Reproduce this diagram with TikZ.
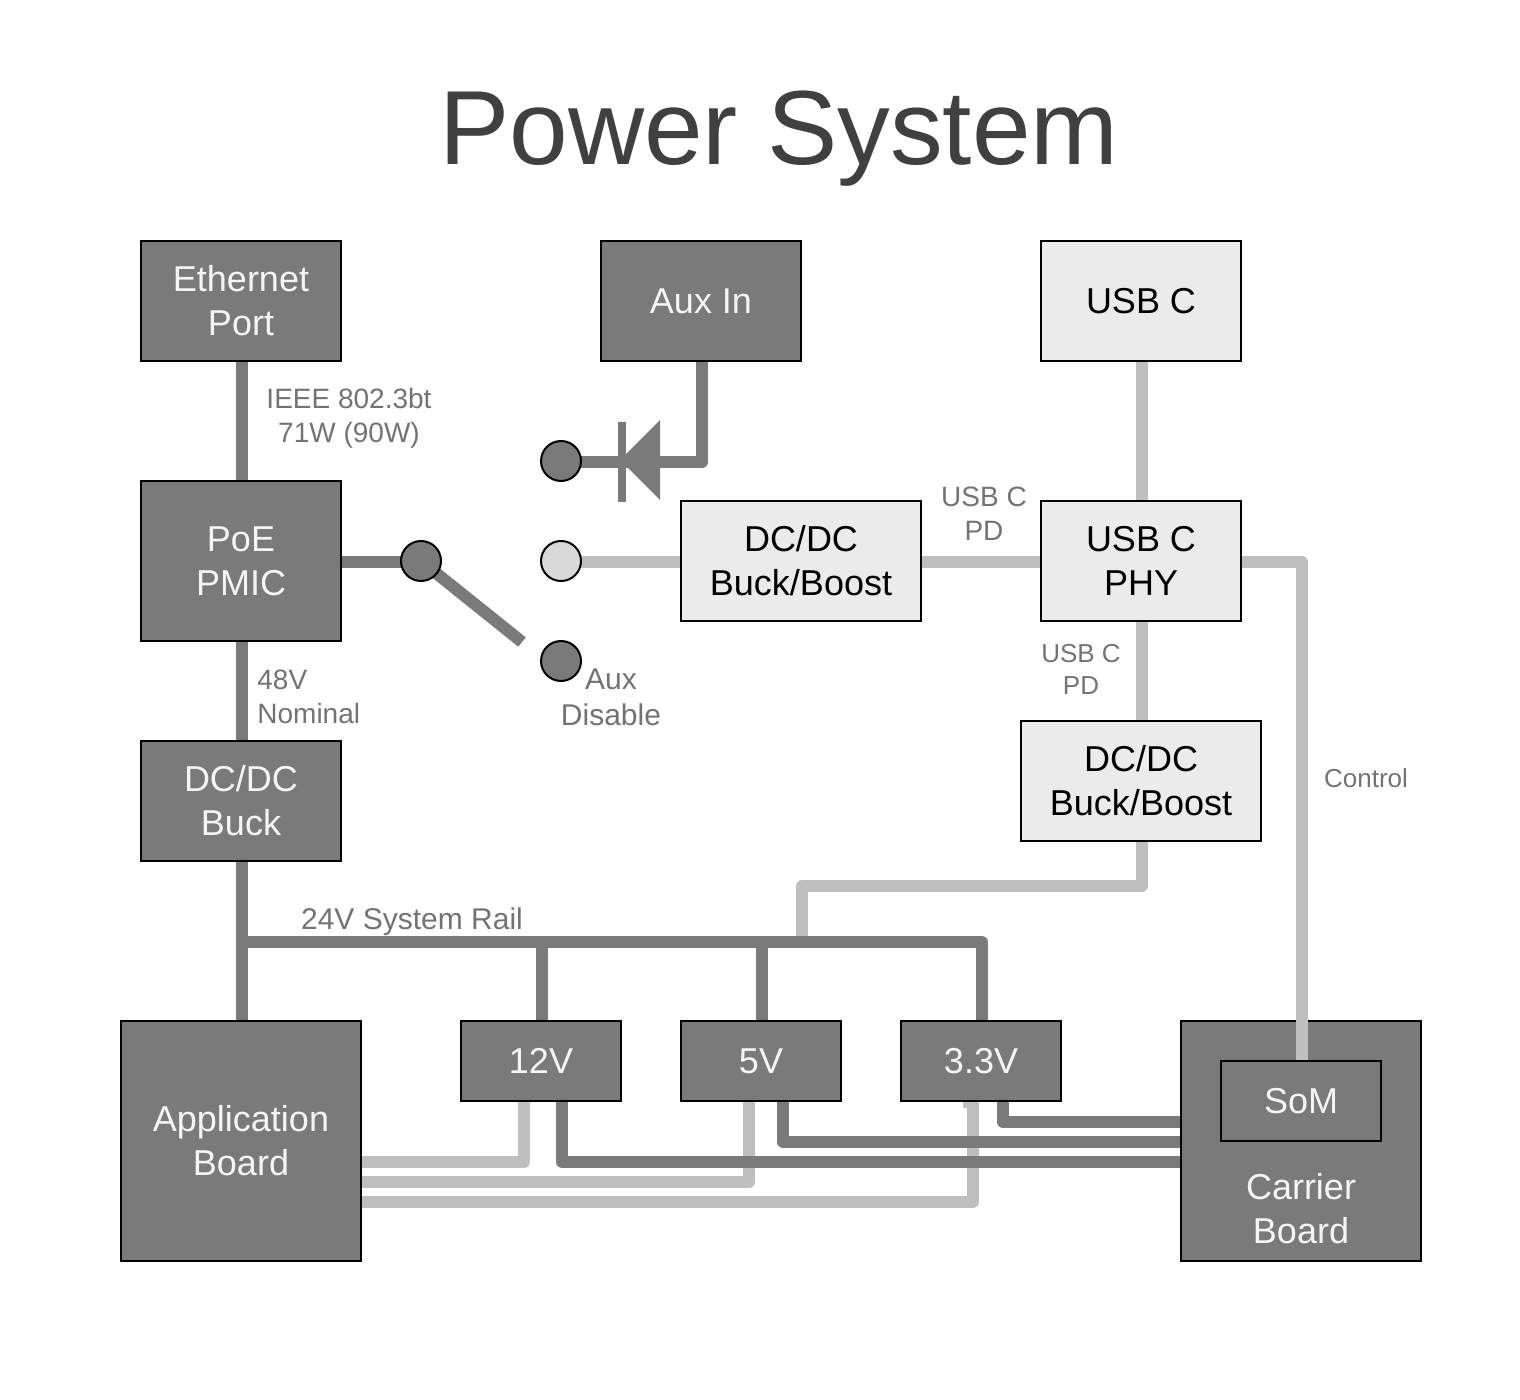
\documentclass[tikz,border=0pt]{standalone}
\usepackage{fontspec}
\setmainfont{Liberation Sans}
\usetikzlibrary{backgrounds}

\definecolor{darkgrey}{HTML}{7A7A7A}
\definecolor{palegrey}{HTML}{BFBFBF}
\definecolor{boxgrey}{HTML}{EBEBEB}
\definecolor{taggrey}{HTML}{737373}

\tikzset{
  box/.style={draw=black, line width=1pt, inner sep=0pt, outer sep=0pt, align=center,
    font=\fontsize{18}{22}\selectfont},
  darkbox/.style={box, fill=darkgrey, text=white!96!black},
  lightbox/.style={box, fill=boxgrey, text=black},
  contact/.style={circle, draw=black, line width=1pt, inner sep=0pt, outer sep=0pt,
    minimum size=20pt},
  darkwire/.style={draw=darkgrey, line width=6pt, line join=round},
  lightwire/.style={draw=palegrey, line width=6pt, line join=round},
  tag/.style={text=taggrey, align=center, inner sep=0pt, font=\fontsize{14}{17}\selectfont},
  smalltag/.style={tag, font=\fontsize{13}{16}\selectfont},
}

\begin{document}
\begin{tikzpicture}[x=0.5pt, y=-0.5pt]
  \useasboundingbox (0,0) rectangle (1520,1400);

  \node[text=black!75, inner sep=0pt, anchor=base, font=\fontsize{52.7}{60}\selectfont] (title) at (779,165) {Power System};

  % top row
  \node[darkbox, minimum width=100pt, minimum height=60pt] (eth) at (241,301) {Ethernet\\Port};
  \node[darkbox, minimum width=100pt, minimum height=60pt] (aux) at (701,301) {Aux In};
  \node[lightbox, minimum width=100pt, minimum height=60pt] (usbc) at (1141,301) {USB C};

  % middle
  \node[darkbox, minimum width=100pt, minimum height=80pt] (pmic) at (241,561) {PoE\\PMIC};
  \node[lightbox, minimum width=120pt, minimum height=60pt] (bb1) at (801,561) {DC/DC\\Buck/Boost};
  \node[lightbox, minimum width=100pt, minimum height=60pt] (phy) at (1141,561) {USB C\\PHY};
  \node[lightbox, minimum width=120pt, minimum height=60pt] (bb2) at (1141,781) {DC/DC\\Buck/Boost};
  \node[darkbox, minimum width=100pt, minimum height=60pt] (buck) at (241,801) {DC/DC\\Buck};

  % switch
  \node[contact, fill=darkgrey] (pole) at (421,561) {};
  \node[contact, fill=darkgrey] (c1) at (561,461) {};
  \node[contact, fill=black!15] (c2) at (561,561) {};
  \node[contact, fill=darkgrey] (c3) at (561,661) {};
  \coordinate (armend) at (522,642);

  % bottom row
  \node[darkbox, minimum width=120pt, minimum height=120pt] (app) at (241,1141) {Application\\Board};
  \node[darkbox, minimum width=80pt, minimum height=40pt] (v12) at (541,1061) {12V};
  \node[darkbox, minimum width=80pt, minimum height=40pt] (v5) at (761,1061) {5V};
  \node[darkbox, minimum width=80pt, minimum height=40pt] (v33) at (981,1061) {3.3V};
  \node[darkbox, minimum width=120pt, minimum height=120pt] (carrier) at (1301,1141) {};
  \node[align=center, inner sep=0pt, text=white!96!black, font=\fontsize{18}{22}\selectfont] (carriertext) at (1301,1209) {Carrier\\Board};

  % ports for the rails
  \coordinate (bus) at (242,942);
  \coordinate (busend) at (982,942);
  \coordinate (tap12) at (542,942);
  \coordinate (tap5) at (762,942);
  \coordinate (tap33) at (802,942);
  \coordinate (out12l) at (524,1101);
  \coordinate (out12d) at (562,1101);
  \coordinate (out5l) at (749,1101);
  \coordinate (out5d) at (783,1101);
  \coordinate (out33l) at (973,1101);
  \coordinate (out33d) at (1003,1101);
  \coordinate (app12) at (361,1162);
  \coordinate (app5) at (361,1182);
  \coordinate (app33) at (361,1202);
  \coordinate (car12) at (1181,1162);
  \coordinate (car5) at (1181,1142);
  \coordinate (car33) at (1181,1122);
  \coordinate (ctrl) at (1302,562);
  \coordinate (bend) at (1142,886);

  \begin{scope}[on background layer]
    % pale wires
    \path[lightwire]
      ([xshift=.5pt]usbc.south) edge ([xshift=.5pt]phy.north)
      ([xshift=.5pt]phy.south) edge ([xshift=.5pt]bb2.north)
      ([yshift=-.5pt]bb1.east) edge ([yshift=-.5pt]phy.west)
      ([yshift=-.5pt]c2.east) edge ([yshift=-.5pt]bb1.west);
    \draw[lightwire] ([xshift=.5pt]bb2.south) -- (bend) -| (tap33);
    \draw[lightwire] (out12l) |- (app12);
    \draw[lightwire] (out5l) |- (app5);
    \draw[lightwire] (out33l) |- (app33);
    \fill[palegrey] (963,1101) rectangle (968,1108);

    % dark wires
    \path[darkwire]
      ([xshift=.5pt]eth.south) edge ([xshift=.5pt]pmic.north)
      ([xshift=.5pt]pmic.south) edge ([xshift=.5pt]buck.north)
      ([yshift=-.5pt]pmic.east) edge ([yshift=-.5pt]pole.west)
      (pole) edge (armend);
    \draw[darkwire] ([xshift=.5pt]buck.south) -- ([xshift=.5pt]app.north);
    \draw[darkwire] (bus) -- (busend) -- (busend |- v33.north);
    \draw[darkwire] (tap12) -- (tap12 |- v12.north);
    \draw[darkwire] (tap5) -- (tap5 |- v5.north);
    \draw[darkwire] ([xshift=.5pt]aux.south) |- ([yshift=-.5pt]c1.east);
    \draw[darkwire] (out12d) |- (car12);
    \draw[darkwire] (out5d) |- (car5);
    \draw[darkwire] (out33d) |- (car33);
  \end{scope}

  % diode
  \fill[darkgrey] (618,422) rectangle (626,502);
  \fill[darkgrey] (660,420) -- (620,460) -- (660,500) -- cycle;

  % control line runs over the carrier
  \draw[lightwire] ([xshift=.5pt, yshift=-.5pt]phy.east) -- (ctrl) -- (1302,1061);
  \node[darkbox, minimum width=80pt, minimum height=40pt] (som) at (1301,1101) {SoM};

  % labels
  \node[tag] (ieee) at (349,418) {IEEE 802.3bt\\71W (90W)};
  \node[tag, align=left, anchor=west] (nominal) at (257,697) {48V\\Nominal};
  \node[tag, font=\fontsize{15}{18}\selectfont] (disable) at (611,697) {Aux\\Disable};
  \node[tag] (pd1) at (984,514) {USB C\\PD};
  \node[smalltag] (pd2) at (1081,669) {USB C\\PD};
  \node[smalltag] (control) at (1366,778) {Control};
  \node[tag, font=\fontsize{15}{18}\selectfont] (rail) at (412,922) {24V System Rail};
\end{tikzpicture}
\end{document}
